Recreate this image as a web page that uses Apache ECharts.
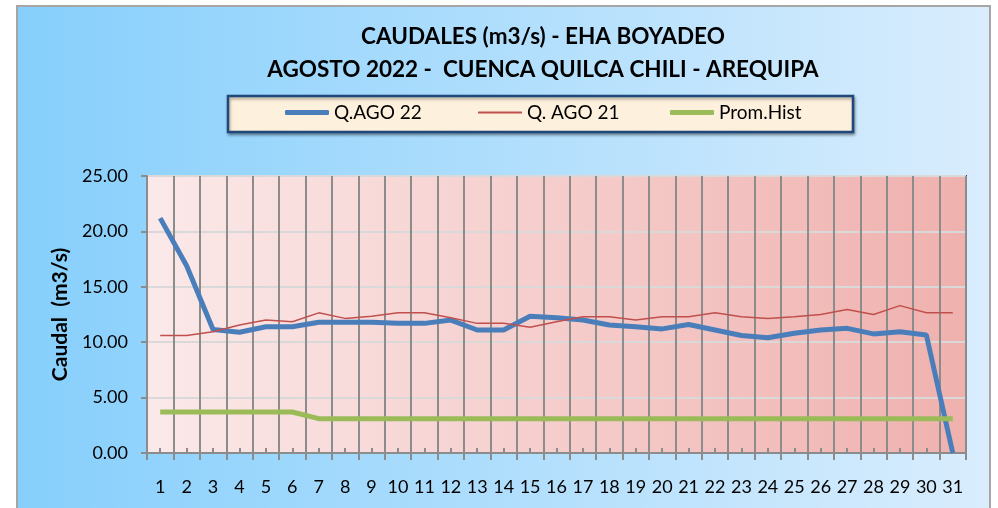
<!DOCTYPE html>
<html>
<head>
<meta charset="utf-8">
<script src="https://cdn.jsdelivr.net/npm/echarts@6/dist/echarts.min.js"></script>
<style>
html,body{margin:0;padding:0;background:#ffffff;}
#chart{width:998px;height:508px;}
</style>
</head>
<body>
<div id="chart"></div>
<script>
const days = ['1','2','3','4','5','6','7','8','9','10','11','12','13','14','15','16','17','18','19','20','21','22','23','24','25','26','27','28','29','30','31'];
const qAgo22 = [21.2,16.9,11.15,10.9,11.4,11.4,11.8,11.8,11.8,11.7,11.7,12.0,11.1,11.1,12.35,12.2,12.0,11.55,11.4,11.2,11.6,11.1,10.6,10.4,10.8,11.1,11.25,10.75,10.95,10.65,0];
const qAgo21 = [10.6,10.6,10.95,11.55,12.0,11.85,12.65,12.15,12.35,12.65,12.65,12.2,11.7,11.7,11.35,11.85,12.3,12.3,12.0,12.3,12.3,12.65,12.3,12.15,12.3,12.5,12.95,12.5,13.3,12.65,12.65];
const promHist = [3.7,3.7,3.7,3.7,3.7,3.7,3.1,3.1,3.1,3.1,3.1,3.1,3.1,3.1,3.1,3.1,3.1,3.1,3.1,3.1,3.1,3.1,3.1,3.1,3.1,3.1,3.1,3.1,3.1,3.1,3.1];
const yTicks = [0,5,10,15,20,25];
const titleLine1 = 'CAUDALES (m3/s) - EHA BOYADEO';
const titleLine2 = 'AGOSTO 2022 -  CUENCA QUILCA CHILI - AREQUIPA';
const seriesNames = ['Q.AGO 22','Q. AGO 21','Prom.Hist'];

const FONT = 'Lato';
const chart = echarts.init(document.getElementById('chart'));
const gridLeft = 147, gridTop = 176, gridRight = 32, gridBottom = 55;

const legendLefts = [285, 478, 670];
const legendHeights = [5, 2, 5];
const option = {
  animation: false,
  backgroundColor: '#ffffff',
  textStyle: {fontFamily: FONT},
  graphic: [
    {type:'rect', z:-10, shape:{x:17,y:6,width:973,height:520},
     style:{fill:{type:'linear',x:0,y:0,x2:1,y2:0,colorStops:[{offset:0,color:'#86cffc'},{offset:1,color:'#d9edfd'}]}, stroke:'#a6a6a6', lineWidth:2}},
    {type:'rect', z:-5, shape:{x:228,y:96,width:625,height:36},
     style:{fill:'#fdf0dc', stroke:'#1f497d', lineWidth:2.5, shadowBlur:3, shadowOffsetX:1, shadowOffsetY:2, shadowColor:'rgba(0,0,0,0.35)'}}
  ],
  title: [
    {text: titleLine1, left: 543, top: 25, textAlign:'center', padding:0,
     textStyle:{fontFamily:FONT, fontWeight:'bold', fontSize:22.5, color:'#000'}},
    {text: titleLine2, left: 543, top: 58, textAlign:'center', padding:0,
     textStyle:{fontFamily:FONT, fontWeight:'bold', fontSize:22.5, color:'#000'}}
  ],
  legend: seriesNames.map((n,i)=>({
    data:[n], left: legendLefts[i], top: 103, padding:0,
    icon:'roundRect', itemWidth:44, itemHeight:legendHeights[i],
    textStyle:{fontFamily:FONT, fontSize:19, color:'#000'}
  })),
  grid: {left:gridLeft, top:gridTop, right:gridRight, bottom:gridBottom, show:true,
    backgroundColor:{type:'linear',x:0,y:0,x2:1,y2:0,colorStops:[{offset:0,color:'#fbe9e9'},{offset:1,color:'#efb1ae'}]},
    borderColor:'#1f497d', borderWidth:2},
  xAxis: [
    {type:'category', data: days, boundaryGap:true,
     axisLine:{show:true, lineStyle:{color:'#8c8c8c', width:2}},
     axisTick:{show:true, interval:0, length:7, lineStyle:{color:'#8c8c8c', width:2}},
     axisLabel:{interval:0, margin:25, fontFamily:FONT, fontSize:18, color:'#000'},
     splitLine:{show:true, interval:0, lineStyle:{color:'#8c8c8c', width:2}}},
    {type:'category', data: days, boundaryGap:true, position:'bottom',
     axisLine:{show:false},
     axisTick:{show:true, interval:0, alignWithLabel:true, inside:true, length:5, lineStyle:{color:'#8c8c8c', width:2}},
     axisLabel:{show:false}, splitLine:{show:false}}
  ],
  yAxis: {type:'value', min:yTicks[0], max:yTicks[yTicks.length-1], interval:5,
    name:'Caudal  (m3/s)', nameLocation:'middle', nameGap:75, nameRotate:90,
    nameTextStyle:{fontFamily:FONT, fontWeight:'bold', fontSize:21, color:'#000'},
    axisLine:{show:true, lineStyle:{color:'#8c8c8c', width:2}},
    axisTick:{show:true, length:6, lineStyle:{color:'#8c8c8c', width:2}},
    axisLabel:{margin:19, fontFamily:FONT, fontSize:18, color:'#000', formatter:v=>v.toFixed(2)},
    splitLine:{show:true, lineStyle:{color:'#d9d9d9', width:2}}},
  series: [
    {name:seriesNames[0], type:'line', data:qAgo22, symbol:'none', xAxisIndex:0,
     lineStyle:{color:'#4a7ebb', width:5}, itemStyle:{color:'#4a7ebb'}},
    {name:seriesNames[1], type:'line', data:qAgo21, symbol:'none', xAxisIndex:0,
     lineStyle:{color:'#c0504d', width:1.5}, itemStyle:{color:'#c0504d'}},
    {name:seriesNames[2], type:'line', data:promHist, symbol:'none', xAxisIndex:0,
     lineStyle:{color:'#9bbb59', width:5}, itemStyle:{color:'#9bbb59'}}
  ]
};
chart.setOption(option);
</script>
</body>
</html>
